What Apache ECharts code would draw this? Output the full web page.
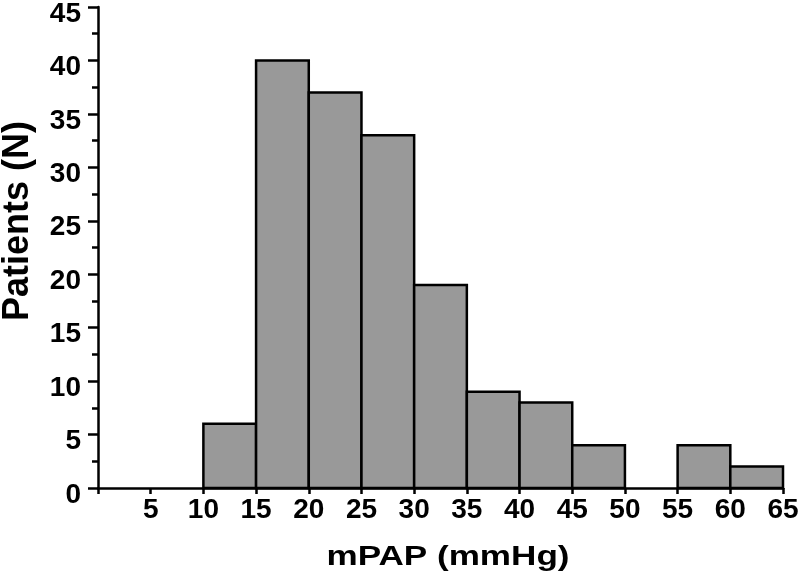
<!DOCTYPE html>
<html>
<head>
<meta charset="utf-8">
<script src="https://cdn.jsdelivr.net/npm/echarts@6/dist/echarts.min.js"></script>
<style>html,body{margin:0;padding:0;background:#fff;}#c{width:800px;height:578px;}</style>
</head>
<body>
<div id="c"></div>
<script>
const binStarts = [10, 15, 20, 25, 30, 35, 40, 45, 50, 55, 60];
const binEnds   = [15, 20, 25, 30, 35, 40, 45, 50, 55, 60, 65];
const patients  = [6, 40, 37, 33, 19, 9, 8, 4, 0, 4, 2];
const xTitle = 'mPAP (mmHg)';
const yTitle = 'Patients (N)';

const data = binStarts.map((s, i) => [s, binEnds[i], patients[i]]);
const font = '"Liberation Sans", Arial, sans-serif';

const chart = echarts.init(document.getElementById('c'));
chart.setOption({
  animation: false,
  backgroundColor: '#fff',
  grid: { left: 98, right: 17, top: 7, bottom: 90, outerBoundsMode: 'none', containLabel: false },
  graphic: [
    {
      type: 'text', x: 448, y: 558, scaleX: 1.3,
      style: { text: xTitle, fontFamily: font, fontWeight: 'bold', fontSize: 27, fill: '#000',
               align: 'center', verticalAlign: 'middle' }
    },
    {
      type: 'text', x: 18, y: 221, rotation: Math.PI / 2,
      style: { text: yTitle, fontFamily: font, fontWeight: 'bold', fontSize: 36, fill: '#000',
               align: 'center', verticalAlign: 'middle' }
    }
  ],
  xAxis: {
    type: 'value', min: 0, max: 65, interval: 5,
    axisLine: { show: true, lineStyle: { color: '#000', width: 2.5 } },
    axisTick: { show: true, length: 6, lineStyle: { color: '#000', width: 2.5 } },
    axisLabel: { fontFamily: font, fontWeight: 'bold', fontSize: 28, color: '#000', margin: 8,
      formatter: v => v === 0 ? '' : String(v) },
    splitLine: { show: false }
  },
  yAxis: {
    type: 'value', min: 0, max: 45, interval: 5,
    axisLine: { show: true, lineStyle: { color: '#000', width: 2.5 } },
    axisTick: { show: true, length: 10, lineStyle: { color: '#000', width: 2.5 } },
    minorTick: { show: true, splitNumber: 2, length: 6, lineStyle: { color: '#000', width: 2.5 } },
    axisLabel: { fontFamily: font, fontWeight: 'bold', fontSize: 28, color: '#000', margin: 17,
      verticalAlign: 'top', lineHeight: 14 },
    splitLine: { show: false }
  },
  series: [{
    type: 'custom',
    data: data,
    encode: { x: [0, 1], y: 2 },
    renderItem: function (params, api) {
      const h = api.value(2);
      if (!h) return null;
      const p1 = api.coord([api.value(0), h]);
      const p2 = api.coord([api.value(1), 0]);
      return {
        type: 'rect',
        shape: { x: p1[0], y: p1[1], width: p2[0] - p1[0], height: p2[1] - p1[1] },
        style: { fill: '#999999', stroke: '#000', lineWidth: 2.5 }
      };
    }
  }]
});
</script>
</body>
</html>
